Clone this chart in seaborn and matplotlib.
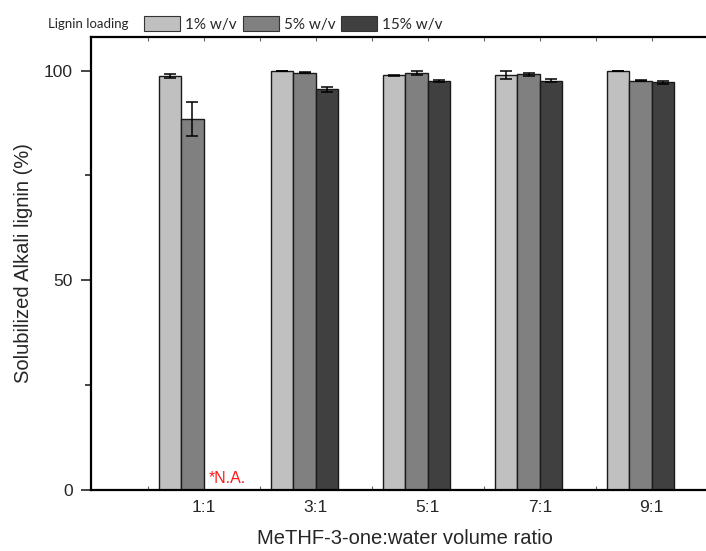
import numpy as np
import pandas as pd
import matplotlib
matplotlib.use("Agg")
import matplotlib.pyplot as plt
import seaborn as sns
from matplotlib.patches import Patch

ratios = ["1:1", "3:1", "5:1", "7:1", "9:1"]
loadings = ["1% w/v", "5% w/v", "15% w/v"]
vals_1 = [98.7, 99.9, 98.9, 98.9, 99.9]
vals_5 = [88.5, 99.5, 99.4, 99.1, 97.6]
vals_15 = [np.nan, 95.5, 97.5, 97.6, 97.2]
err_1 = [0.5, 0.0, 0.1, 1.0, 0.0]
err_5 = [4.1, 0.1, 0.5, 0.3, 0.1]
err_15 = [np.nan, 0.6, 0.3, 0.3, 0.4]
colors = ["#c0c0c0", "#808080", "#404040"]
y_ticks = [0, 50, 100]

rows = []
for lab, v, e in zip(loadings, [vals_1, vals_5, vals_15], [err_1, err_5, err_15]):
    for r, vv, ee in zip(ratios, v, e):
        rows.append({"ratio": r, "loading": lab, "value": vv, "err": ee})
df = pd.DataFrame(rows)

sns.set_style("ticks")
plt.rcParams["font.family"] = ["Liberation Sans", "DejaVu Sans"]

fig = plt.figure(figsize=(7.06, 5.51), dpi=100)
ax = fig.add_axes([91 / 706, 61 / 551, 628 / 706, 453 / 551])

sns.barplot(data=df.dropna(subset=["value"]), x="ratio", y="value", hue="loading",
            order=ratios, hue_order=loadings, palette=colors, width=0.6,
            errorbar=None, edgecolor="#1a1a1a", linewidth=1.0, saturation=1,
            legend=False, ax=ax)

# error bars
offsets = [-0.2, 0.0, 0.2]
for k, (v, e) in enumerate(zip([vals_1, vals_5, vals_15], [err_1, err_5, err_15])):
    xs = np.arange(len(ratios)) + offsets[k]
    ax.errorbar(xs, v, yerr=e, fmt="none", ecolor="black", elinewidth=1.1,
                capsize=4.5, capthick=1.1, zorder=5)

ax.text(0.31, 0.9, "*N.A.", color="#ff1a1a", fontsize=11.5, ha="center", va="bottom")

ax.set_yticks(y_ticks)
ax.set_yticks([25, 75], minor=True)
ax.set_yticklabels([str(t) for t in y_ticks], fontsize=12.5)
ax.tick_params(axis="y", which="major", direction="out", length=7, width=1.2, pad=6)
ax.tick_params(axis="y", which="minor", direction="out", length=4, width=1.2)

tick_pos = np.arange(len(ratios)) + 0.1
ax.set_xticks(tick_pos)
ax.set_xticklabels(ratios, fontsize=12.5)
ax.set_xticks(np.arange(-1, len(ratios)) + 0.6, minor=True)
ax.tick_params(axis="x", which="both", direction="in", length=3, width=0.8,
               color="#666666", top=True, pad=7)

ax.set_xlim(-0.906, 4.7)
ax.set_ylim(0, 108)

for side in ["left", "bottom", "top", "right"]:
    ax.spines[side].set_visible(True)
    ax.spines[side].set_linewidth(1.6)
    ax.spines[side].set_color("black")

ax.set_xlabel("MeTHF-3-one:water volume ratio", fontsize=14.5, labelpad=10)
ax.set_ylabel("Solubilized Alkali lignin (%)", fontsize=14.5, labelpad=8)

# legend across the top
handles = [Patch(facecolor=c, edgecolor="#333333", linewidth=0.8) for c in colors]
leg = fig.legend(handles, loadings, loc="center left", bbox_to_anchor=(144 / 706, 1 - 24 / 551),
                 ncol=3, frameon=False, handlelength=2.35, handleheight=1.1,
                 handletextpad=0.33, columnspacing=0.4, borderaxespad=0, borderpad=0,
                 prop={"family": ["Lato", "DejaVu Sans"], "size": 11})
fig.text(48 / 706, 1 - 24 / 551, "Lignin loading", fontsize=9.5, va="center", ha="left",
         family=["Lato", "DejaVu Sans"])

fig.savefig("out.png", dpi=100)
